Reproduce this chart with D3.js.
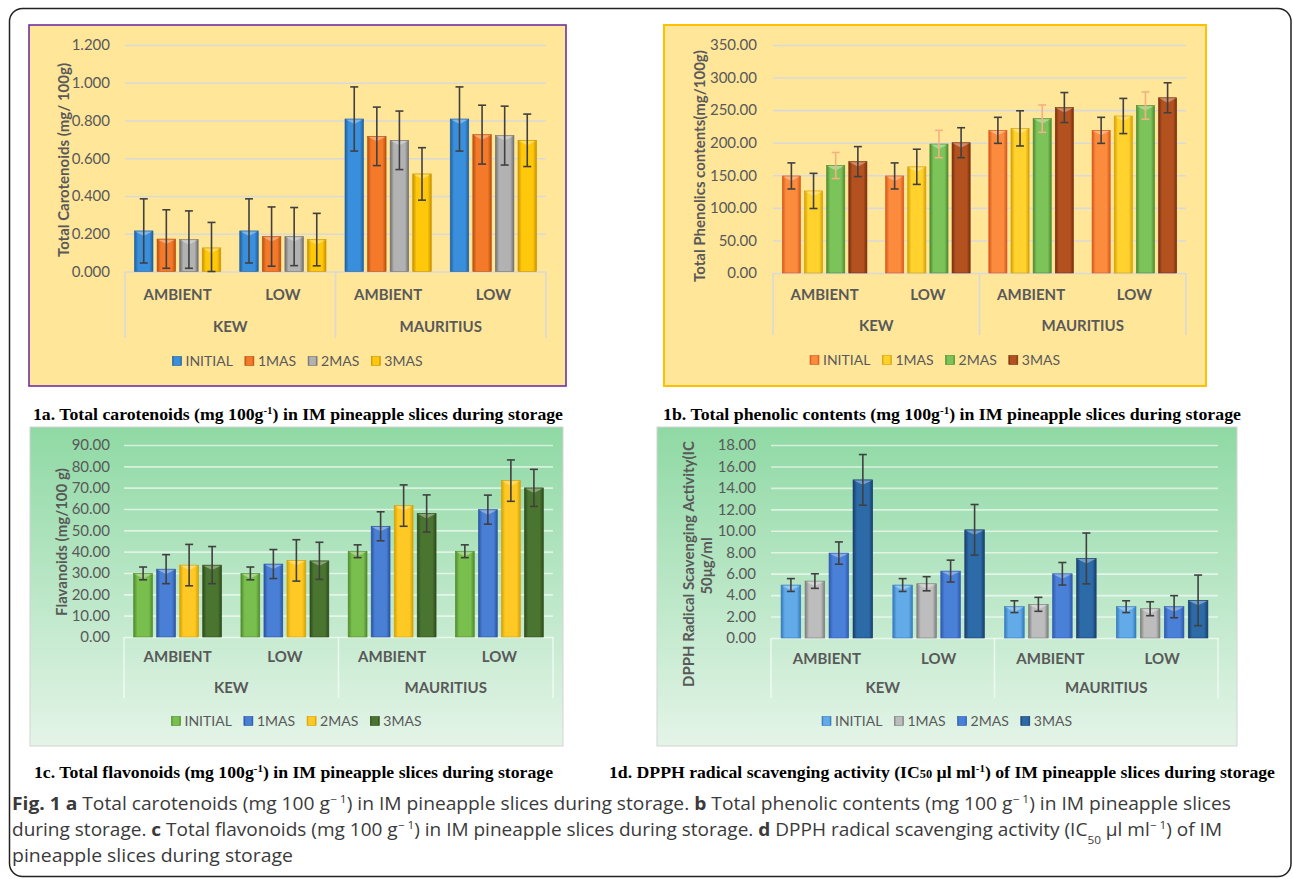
<!DOCTYPE html>
<html><head><meta charset="utf-8">
<script src="https://cdn.jsdelivr.net/npm/d3@7"></script>
<style>body{margin:0;background:#fff}svg{display:block}</style>
</head><body>
<svg id="fig" width="1293" height="879"></svg>
<script>
// ---------- DATA ----------
const locations = ["KEW", "MAURITIUS"];
const storages = ["AMBIENT", "LOW"];
const seriesNames = ["INITIAL", "1MAS", "2MAS", "3MAS"];
// each row = one series; columns = KEW-AMBIENT, KEW-LOW, MAURITIUS-AMBIENT, MAURITIUS-LOW
const carotenoidValues = [
  [0.215, 0.215, 0.808, 0.808],
  [0.172, 0.185, 0.716, 0.725],
  [0.169, 0.185, 0.695, 0.720],
  [0.125, 0.169, 0.517, 0.695]];
const carotenoidErrors = [
  [0.170, 0.170, 0.170, 0.170],
  [0.155, 0.157, 0.155, 0.156],
  [0.152, 0.154, 0.155, 0.156],
  [0.135, 0.139, 0.139, 0.139]];
const carotenoidTicks = [0, 0.2, 0.4, 0.6, 0.8, 1.0, 1.2];

const phenolicValues = [
  [149, 149, 219, 219],
  [126, 163, 222, 241],
  [165, 198, 237, 257],
  [171, 200, 254, 269]];
const phenolicErrors = [
  [20, 20, 20, 20],
  [27, 27, 27, 27],
  [20, 21, 21, 21],
  [23, 23, 23, 23]];
const phenolicTicks = [0, 50, 100, 150, 200, 250, 300, 350];

const flavonoidValues = [
  [29.8, 29.8, 40.2, 40.2],
  [31.8, 34.2, 51.9, 59.7],
  [33.7, 35.9, 61.6, 73.3],
  [33.7, 35.7, 57.9, 69.9]];
const flavonoidErrors = [
  [3.0, 3.0, 3.0, 3.0],
  [6.8, 6.8, 6.8, 6.8],
  [9.7, 9.7, 9.7, 9.7],
  [8.7, 8.7, 8.7, 8.7]];
const flavonoidTicks = [0, 10, 20, 30, 40, 50, 60, 70, 80, 90];

const dpphValues = [
  [4.94, 4.94, 2.92, 2.92],
  [5.31, 5.06, 3.14, 2.73],
  [7.92, 6.24, 5.99, 2.92],
  [14.75, 10.09, 7.42, 3.51]];
const dpphErrors = [
  [0.60, 0.60, 0.55, 0.55],
  [0.68, 0.66, 0.65, 0.65],
  [1.04, 1.02, 1.05, 1.03],
  [2.36, 2.36, 2.37, 2.36]];
const dpphTicks = [0, 2, 4, 6, 8, 10, 12, 14, 16, 18];

// ---------- DRAWING ----------
const FONT = "Lato, 'Open Sans', sans-serif";
const svg = d3.select("#fig");
const defs = svg.append("defs");

const greenBg = defs.append("linearGradient").attr("id", "greenBg")
  .attr("x1", 0).attr("y1", 0).attr("x2", 0).attr("y2", 1);
greenBg.append("stop").attr("offset", "0%").attr("stop-color", "#8FD9A4");
greenBg.append("stop").attr("offset", "100%").attr("stop-color", "#E4F4E8");

function barGrad(id, edge, mid) {
  const lg = defs.append("linearGradient").attr("id", id)
    .attr("x1", 0).attr("y1", 0).attr("x2", 1).attr("y2", 0);
  lg.append("stop").attr("offset", "0%").attr("stop-color", edge);
  lg.append("stop").attr("offset", "20%").attr("stop-color", mid);
  lg.append("stop").attr("offset", "80%").attr("stop-color", mid);
  lg.append("stop").attr("offset", "100%").attr("stop-color", edge);
}

// outer frame
svg.append("rect").attr("x", 9.5).attr("y", 8.5).attr("width", 1281.5).attr("height", 868)
  .attr("rx", 13).attr("fill", "none").attr("stroke", "#222").attr("stroke-width", 1.5);

const groupKeys = d3.cross(locations, storages).map(([l, s]) => l + "|" + s);

function drawPanel(c, idx) {
  const g = svg.append("g");
  g.append("rect").attr("x", c.box[0]).attr("y", c.box[1])
    .attr("width", c.box[2] - c.box[0]).attr("height", c.box[3] - c.box[1])
    .attr("fill", c.fill).attr("stroke", c.stroke).attr("stroke-width", c.strokeW);

  const y = d3.scaleLinear().domain([0, d3.max(c.ticks)]).range([c.base, c.top]);
  const x0 = d3.scaleBand().domain(groupKeys).range([c.left, c.right]);
  const xLoc = d3.scaleBand().domain(locations).range([c.left, c.right]);
  const x1 = d3.scaleBand().domain(seriesNames).range([0, x0.bandwidth()])
    .paddingInner(0.18).paddingOuter(0.42);

  // gridlines + tick labels
  const ax = g.append("g").attr("transform", `translate(${c.left},0)`)
    .call(d3.axisLeft(y).tickValues(c.ticks).tickFormat(c.fmt)
      .tickSizeInner(-(c.right - c.left)).tickSizeOuter(0).tickPadding(c.pad));
  ax.select(".domain").remove();
  ax.selectAll(".tick line").attr("stroke", c.grid).attr("stroke-width", 1.6);
  ax.selectAll(".tick text").attr("font-family", FONT).attr("font-size", 15)
    .attr("fill", "#595959");

  // category axis bracket lines
  const vx = [c.left].concat(locations.slice(1).map(l => xLoc(l)), [c.right]);
  g.selectAll(".vline").data(vx).join("line")
    .attr("x1", d => d).attr("x2", d => d).attr("y1", c.base).attr("y2", c.bracket)
    .attr("stroke", c.axisCol).attr("stroke-width", 1.6);

  const sAx = g.append("g").attr("transform", `translate(0,${c.storageY})`)
    .call(d3.axisBottom(x0).tickFormat(k => k.split("|")[1]).tickSize(0));
  const lAx = g.append("g").attr("transform", `translate(0,${c.locY})`)
    .call(d3.axisBottom(xLoc).tickSize(0));
  [sAx, lAx].forEach(a => {
    a.select(".domain").remove();
    a.selectAll("text").attr("y", 0).attr("dy", "0.35em").attr("font-family", FONT)
      .attr("font-size", 15).attr("font-weight", "bold").attr("fill", "#595959");
  });

  // gradients
  seriesNames.forEach((s, i) => barGrad(`g${idx}_${i}`, c.colors[i][0], c.colors[i][1]));

  // bars
  seriesNames.forEach((s, i) => {
    const sg = g.append("g");
    sg.selectAll("rect.bar").data(c.values[i]).join("rect").attr("class", "bar")
      .attr("x", (v, j) => x0(groupKeys[j]) + x1(s))
      .attr("y", v => y(v))
      .attr("width", x1.bandwidth())
      .attr("height", v => c.base - y(v))
      .attr("fill", `url(#g${idx}_${i})`)
      .attr("stroke", c.colors[i][0]).attr("stroke-width", 0.6);
    // top bevel highlight
    sg.selectAll("path.bev").data(c.values[i]).join("path").attr("class", "bev")
      .attr("d", (v, j) => {
        const bx = x0(groupKeys[j]) + x1(s), bw = x1.bandwidth(), by = y(v);
        return `M${bx + 0.6},${by + 0.6}L${bx + bw - 0.6},${by + 0.6}L${bx + bw / 2},${by + 5}Z`;
      })
      .attr("fill", "#fff").attr("opacity", 0.35);
    // error bars
    const eg = g.append("g").attr("stroke", c.errCols[i]).attr("stroke-width", 1.6);
    c.values[i].forEach((v, j) => {
      const e = c.errors[i][j];
      const cx = x0(groupKeys[j]) + x1(s) + x1.bandwidth() / 2;
      const yt = y(v + e), yb = y(Math.max(0, v - e));
      eg.append("line").attr("x1", cx).attr("x2", cx).attr("y1", yt).attr("y2", yb);
      eg.append("line").attr("x1", cx - 4).attr("x2", cx + 4).attr("y1", yt).attr("y2", yt);
      eg.append("line").attr("x1", cx - 4).attr("x2", cx + 4).attr("y1", yb).attr("y2", yb);
    });
  });

  // y title
  c.title.forEach((t, k) => {
    g.append("text").attr("transform", `translate(${c.titleX[k]},${c.titleY[k]}) rotate(-90)`)
      .attr("text-anchor", "middle").attr("dominant-baseline", "central")
      .attr("font-family", FONT).attr("font-size", 15).attr("font-weight", "bold")
      .attr("fill", "#595959").text(t);
  });

  // legend
  const lg = g.append("g");
  let cx = 0;
  seriesNames.forEach((s, i) => {
    lg.append("rect").attr("x", cx).attr("y", c.legendY - 4.5).attr("width", 9).attr("height", 9)
      .attr("fill", `url(#g${idx}_${i})`).attr("stroke", c.colors[i][0]).attr("stroke-width", 0.6);
    const t = lg.append("text").attr("x", cx + 13).attr("y", c.legendY).attr("dy", "0.35em")
      .attr("font-family", FONT).attr("font-size", 14).attr("fill", "#595959").text(s);
    cx += 13 + t.node().getComputedTextLength() + 12;
  });
  const lw = cx - 12;
  lg.attr("transform", `translate(${(c.box[0] + c.box[2]) / 2 - lw / 2},0)`);
}

const f3 = d3.format(".3f"), f2 = d3.format(".2f");
const DK = "#404040";

drawPanel({
  box: [29, 25, 566, 386], fill: "#FFE699", stroke: "#7030A0", strokeW: 1.6,
  left: 125, right: 546, top: 45, base: 271.5, pad: 15, bracket: 338,
  storageY: 295, locY: 327, legendY: 361, grid: "#D9D9D9", axisCol: "#D9D9D9",
  ticks: carotenoidTicks, fmt: f3, values: carotenoidValues, errors: carotenoidErrors,
  colors: [["#1F5F9E", "#3A8FDC"], ["#B94E0E", "#F47A2A"], ["#6E6E6E", "#B2B2B2"], ["#C89200", "#FFC80A"]],
  errCols: [DK, DK, DK, DK],
  title: ["Total Carotenoids (mg/ 100g)"], titleX: [63], titleY: [160]
}, 0);

drawPanel({
  box: [664, 25, 1206, 386], fill: "#FFE699", stroke: "#FFC000", strokeW: 2,
  left: 773, right: 1186, top: 45, base: 273, pad: 16, bracket: 335,
  storageY: 295, locY: 326, legendY: 360, grid: "#D9D9D9", axisCol: "#D9D9D9",
  ticks: phenolicTicks, fmt: f2, values: phenolicValues, errors: phenolicErrors,
  colors: [["#D8561B", "#FB8C3E"], ["#D4A000", "#FFD22E"], ["#4D8A2E", "#7CC35A"], ["#7A2E0E", "#B4521F"]],
  errCols: [DK, DK, "#F4B183", DK],
  title: ["Total Phenolics contents(mg/100g)"], titleX: [699], titleY: [166]
}, 1);

drawPanel({
  box: [30, 427, 563, 746], fill: "url(#greenBg)", stroke: "#D4D4D4", strokeW: 1,
  left: 124, right: 553, top: 445, base: 637, pad: 14, bracket: 698,
  storageY: 657, locY: 688, legendY: 721, grid: "rgba(255,255,255,0.6)", axisCol: "rgba(255,255,255,0.6)",
  ticks: flavonoidTicks, fmt: f2, values: flavonoidValues, errors: flavonoidErrors,
  colors: [["#4F8A2D", "#79BF4E"], ["#2A53A0", "#4A7FD6"], ["#D6A000", "#FFC925"], ["#2E4A1C", "#4A7530"]],
  errCols: [DK, DK, DK, DK],
  title: ["Flavanoids (mg/100 g)"], titleX: [61], titleY: [542]
}, 2);

drawPanel({
  box: [657, 427, 1237, 746], fill: "url(#greenBg)", stroke: "#D4D4D4", strokeW: 1,
  left: 771, right: 1218, top: 445, base: 638, pad: 15, bracket: 698,
  storageY: 659, locY: 688, legendY: 721, grid: "rgba(255,255,255,0.6)", axisCol: "rgba(255,255,255,0.6)",
  ticks: dpphTicks, fmt: f2, values: dpphValues, errors: dpphErrors,
  colors: [["#3479BC", "#62ABE8"], ["#7C7C7C", "#BDBDBD"], ["#2D5AAF", "#4A80D8"], ["#173E6B", "#2D6AA8"]],
  errCols: [DK, DK, DK, DK],
  title: ["DPPH Radical Scavenging Activity(IC", "50μg/ml"], titleX: [688, 706], titleY: [564, 566]
}, 3);

// ---------- captions ----------
function rich(x, y, segs, o) {
  const t = svg.append("text").attr("x", x).attr("y", y)
    .attr("font-family", o.font).attr("font-size", o.size).attr("fill", o.fill)
    .attr("font-weight", o.weight || "normal");
  segs.forEach(s => {
    const ts = t.append("tspan").text(s.t);
    if (s.sup) ts.attr("baseline-shift", "super").attr("font-size", o.size * 0.62);
    if (s.sub) ts.attr("baseline-shift", "sub").attr("font-size", o.size * 0.62);
    if (s.small) ts.attr("font-size", o.size * 0.7);
    if (s.b) ts.attr("font-weight", "bold");
  });
  if (o.len) t.attr("textLength", o.len).attr("lengthAdjust", "spacingAndGlyphs");
}
const capO = { font: "'Liberation Serif', 'Times New Roman', serif", size: 17.5, fill: "#000", weight: "bold" };
rich(33, 420, [{ t: "1a. Total carotenoids (mg 100g" }, { t: "-1", sup: 1 }, { t: ") in IM pineapple slices during storage" }], { ...capO, len: 530 });
rich(663, 420, [{ t: "1b. Total phenolic contents (mg 100g" }, { t: "-1", sup: 1 }, { t: ") in IM pineapple slices during storage" }], { ...capO, len: 578 });
rich(34, 778, [{ t: "1c. Total flavonoids (mg 100g" }, { t: "-1", sup: 1 }, { t: ") in IM pineapple slices during storage" }], { ...capO, len: 519 });
rich(609, 778, [{ t: "1d. DPPH radical scavenging activity (IC" }, { t: "50", small: 1 }, { t: " µl ml" }, { t: "-1", sup: 1 }, { t: ") of IM pineapple slices during storage" }], { ...capO, len: 666 });

const figO = { font: "'Open Sans', sans-serif", size: 17.5, fill: "#3a3a3a" };
rich(12, 810, [{ t: "Fig. 1 a", b: 1 }, { t: " Total carotenoids (mg 100 g" }, { t: "\u2212 1", sup: 1 }, { t: ") in IM pineapple slices during storage. " },
  { t: "b", b: 1 }, { t: " Total phenolic contents (mg 100 g" }, { t: "\u2212 1", sup: 1 }, { t: ") in IM pineapple slices" }], { ...figO, len: 1219 });
rich(12, 836, [{ t: "during storage. " }, { t: "c", b: 1 }, { t: " Total flavonoids (mg 100 g" }, { t: "\u2212 1", sup: 1 }, { t: ") in IM pineapple slices during storage. " },
  { t: "d", b: 1 }, { t: " DPPH radical scavenging activity (IC" }, { t: "50", sub: 1 }, { t: " μl ml" }, { t: "\u2212 1", sup: 1 }, { t: ") of IM" }], { ...figO, len: 1210 });
rich(12, 862, [{ t: "pineapple slices during storage" }], { ...figO, len: 281 });
</script>
</body></html>
